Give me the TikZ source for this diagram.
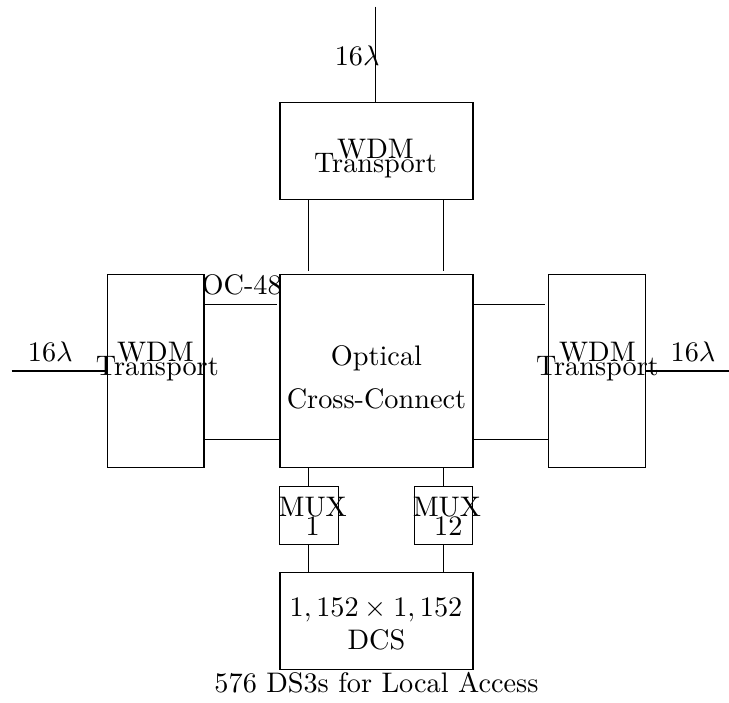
\documentclass[tikz,border=0pt]{standalone}
\begin{document}
\begin{tikzpicture}[x=1.2cm,y=1.2cm,
    wide/.style={draw,inner sep=0pt,minimum width=2.4cm,minimum height=1.2cm},
    tall/.style={draw,inner sep=0pt,minimum width=1.2cm,minimum height=2.4cm},
    big/.style={draw,inner sep=0pt,minimum width=2.4cm,minimum height=2.4cm},
    muxbox/.style={draw,inner sep=0pt,minimum width=0.73cm,minimum height=0.73cm},
    txt/.style={anchor=base,inner sep=0pt},
    gap/.style={shorten >=1pt}]
    \useasboundingbox (-3.891,-3.430) rectangle (3.663,3.845);
    \node[wide] (wdmT) at (0.01,2.28) {};
    \node[big] (oxc) at (0.01,0) {};
    \node[tall] (wdmL) at (-2.277,0) {};
    \node[tall] (wdmR) at (2.295,0) {};
    \node[muxbox] (mux1) at (-0.69,-1.497) {};
    \node[muxbox] (mux12) at (0.705,-1.497) {};
    \node[wide] (dcs) at (0.01,-2.59) {};
    \coordinate (inT) at (0,3.775);
    \coordinate (inL) at (-3.77,0);
    \coordinate (inR) at (3.663,0);
    \draw (inT) -- (inT |- wdmT.north);
    \draw (inL) -- (wdmL.west);
    \draw (wdmR.east) -- (inR);
    \draw[gap] (mux1 |- wdmT.south) -- (mux1 |- oxc.north);
    \draw[gap] (mux12 |- wdmT.south) -- (mux12 |- oxc.north);
    \draw[gap] (wdmL.east |- 0,0.694) -- (oxc.west |- 0,0.694);
    \draw (wdmL.east |- 0,-0.705) -- (oxc.west |- 0,-0.705);
    \draw[gap] (oxc.east |- 0,0.694) -- (wdmR.west |- 0,0.694);
    \draw (oxc.east |- 0,-0.705) -- (wdmR.west |- 0,-0.705);
    \draw (oxc.south -| mux1) -- (mux1.north);
    \draw (oxc.south -| mux12) -- (mux12.north);
    \draw (mux1.south) -- (mux1 |- dcs.north);
    \draw (mux12.south) -- (mux12 |- dcs.north);
    \node[txt] (lamT) at (-0.19,3.17) {$16\lambda$};
    \node[txt] (lamL) at (-3.37,0.096) {$16\lambda$};
    \node[txt] (lamR) at (3.29,0.096) {$16\lambda$};
    \node[txt] (oc48) at (-1.387,0.79) {OC-48};
    \node[txt] (wdmTa) at (0,2.207) {WDM};
    \node[txt] (wdmTb) at (0,2.055) {Transport};
    \node[txt] (wdmLa) at (-2.28,0.10) {WDM};
    \node[txt] (wdmLb) at (-2.26,-0.045) {Transport};
    \node[txt] (wdmRa) at (2.30,0.10) {WDM};
    \node[txt] (wdmRb) at (2.30,-0.045) {Transport};
    \node[txt] (oxca) at (0.01,0.055) {Optical};
    \node[txt] (oxcb) at (0.01,-0.39) {Cross-Connect};
    \node[txt] (mux1a) at (-0.65,-1.51) {MUX};
    \node[txt] (mux1b) at (-0.65,-1.70) {1};
    \node[txt] (mux12a) at (0.74,-1.51) {MUX};
    \node[txt] (mux12b) at (0.755,-1.70) {12};
    \node[txt] (dcsa) at (0.005,-2.546) {$1,152\times1,152$};
    \node[txt] (dcsb) at (0.01,-2.89) {DCS};
    \node[txt] (access) at (0.01,-3.33) {576 DS3s for Local Access};
\end{tikzpicture}
\end{document}
